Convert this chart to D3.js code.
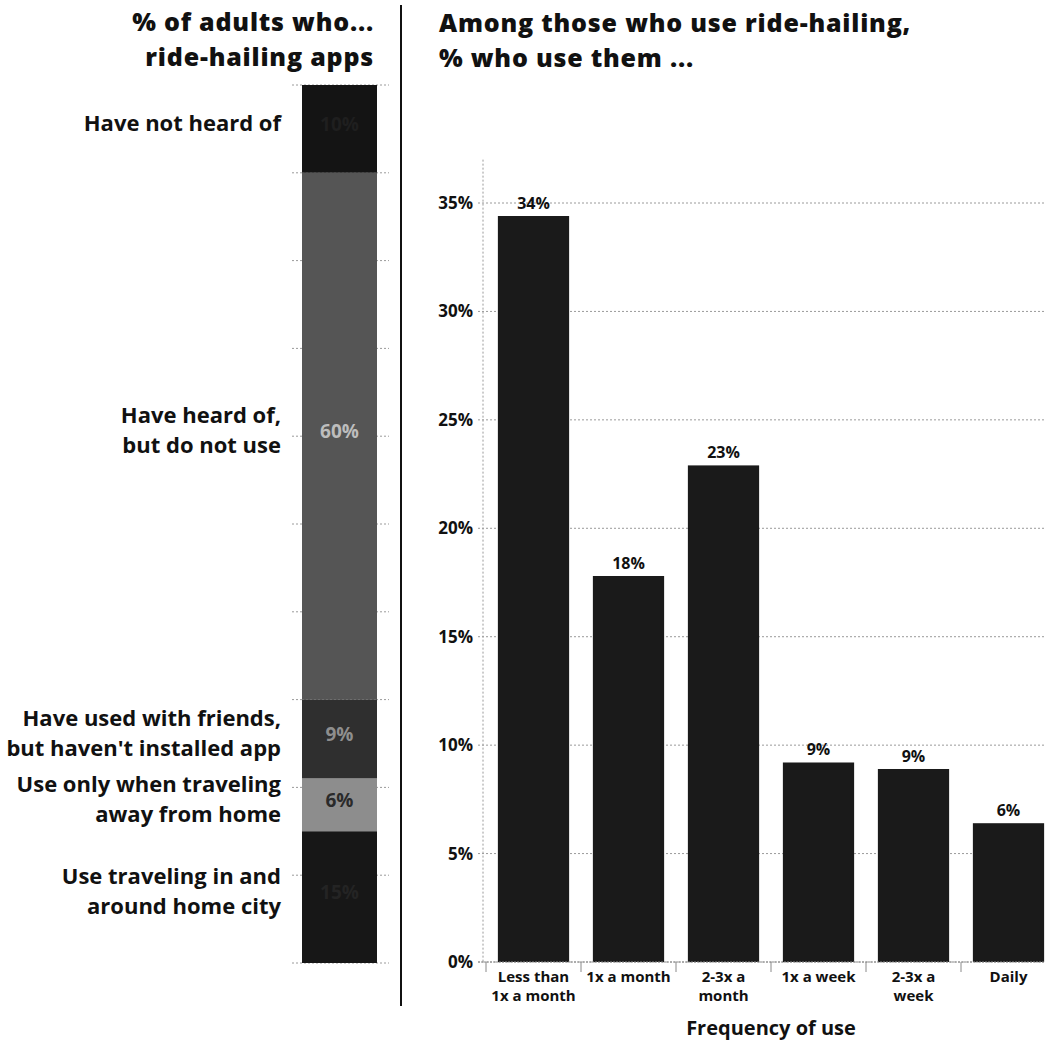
<!DOCTYPE html>
<html>
<head>
<meta charset="utf-8">
<script src="https://cdn.jsdelivr.net/npm/d3@7/dist/d3.min.js"></script>
<style>
  html, body { margin: 0; padding: 0; background: #fff; }
  svg { display: block; }
  text { font-family: "Open Sans", Lato, sans-serif; font-weight: 700; fill: #111; }
  .title { font-size: 25px; font-weight: 800; letter-spacing: 0.8px; }
</style>
</head>
<body>
<svg id="chart" width="1045" height="1043"></svg>
<script>
// ---------- DATA ----------
const awarenessLabels = [
  ["Have not heard of"],
  ["Have heard of,", "but do not use"],
  ["Have used with friends,", "but haven't installed app"],
  ["Use only when traveling", "away from home"],
  ["Use traveling in and", "around home city"]
];
const awarenessValues = [10, 60, 9, 6, 15];
const awarenessFills = ["#141414", "#555555", "#2f2f2f", "#8d8d8d", "#171717"];
const awarenessTextFills = ["#1f1f1f", "#bdbdbd", "#8e8e8e", "#2a2a2a", "#242424"];
const awarenessTicks = [0, 10, 20, 30, 40, 50, 60, 70, 80, 90, 100];

const freqCategories = ["Less than 1x a month", "1x a month", "2-3x a month", "1x a week", "2-3x a week", "Daily"];
const freqLabelLines = [["Less than", "1x a month"], ["1x a month"], ["2-3x a", "month"], ["1x a week"], ["2-3x a", "week"], ["Daily"]];
const freqValues = [34.4, 17.8, 22.9, 9.2, 8.9, 6.4];
const yTicks = [0, 5, 10, 15, 20, 25, 30, 35];

// ---------- SETUP ----------
const svg = d3.select("#chart");

// ---------- LEFT PANEL ----------
const left = svg.append("g");
left.append("text").attr("class", "title").attr("x", 374).attr("y", 31).attr("text-anchor", "end")
  .text("% of adults who...");
left.append("text").attr("class", "title").attr("x", 374).attr("y", 66).attr("text-anchor", "end")
  .text("ride-hailing apps");

const yL = d3.scaleLinear().domain([0, 100]).range([85, 963]);
const barX0 = 302, barX1 = 377;

// tick stubs of the stacked bar
left.selectAll("line.lt").data(awarenessTicks).join("line")
  .attr("x1", 292).attr("x2", 389)
  .attr("y1", d => yL(d)).attr("y2", d => yL(d))
  .attr("stroke", "#9a9a9a").attr("stroke-width", 1).attr("stroke-dasharray", "2,2");

let cum = 0;
const segs = awarenessValues.map((v, i) => {
  const s = { i, start: cum, end: cum + v, v };
  cum += v;
  return s;
});

left.selectAll("rect.seg").data(segs).join("rect")
  .attr("x", barX0).attr("width", barX1 - barX0)
  .attr("y", d => yL(d.start)).attr("height", d => yL(d.end) - yL(d.start))
  .attr("fill", d => awarenessFills[d.i]);

// value labels in the bar
left.selectAll("text.pv").data(segs).join("text")
  .attr("x", (barX0 + barX1) / 2)
  .attr("y", d => yL((d.start + d.end) / 2) - 5)
  .attr("dy", "0.35em").attr("text-anchor", "middle")
  .style("font-size", "19px")
  .style("fill", d => awarenessTextFills[d.i])
  .text(d => d.v + "%");

// category labels
segs.forEach(d => {
  const lines = awarenessLabels[d.i];
  const cy = yL((d.start + d.end) / 2) - 6;
  const lh = 30;
  const t = left.append("text").attr("text-anchor", "end").style("font-size", "22px");
  lines.forEach((ln, k) => {
    t.append("tspan").attr("x", 281)
      .attr("y", cy + (k - (lines.length - 1) / 2) * lh)
      .attr("dy", "0.35em").text(ln);
  });
});

// divider
svg.append("line").attr("x1", 401).attr("x2", 401).attr("y1", 5).attr("y2", 1006)
  .attr("stroke", "#111").attr("stroke-width", 2);

// ---------- RIGHT PANEL ----------
const right = svg.append("g");
right.append("text").attr("class", "title").attr("x", 439).attr("y", 32)
  .text("Among those who use ride-hailing,");
right.append("text").attr("class", "title").attr("x", 439).attr("y", 67)
  .text("% who use them ...");

const y = d3.scaleLinear().domain([0, 35]).range([962, 203]);
const x = d3.scaleBand().domain(freqCategories).range([486, 1056])
  .paddingInner(0.25).paddingOuter(0.125);

// gridlines
right.selectAll("line.grid").data(yTicks).join("line")
  .attr("x1", 478).attr("x2", 1045)
  .attr("y1", d => y(d)).attr("y2", d => y(d))
  .attr("stroke", "#9a9a9a").attr("stroke-width", 1).attr("stroke-dasharray", "2,2");

// y axis line
right.append("line").attr("x1", 483).attr("x2", 483).attr("y1", y(37)).attr("y2", y(0))
  .attr("stroke", "#9a9a9a").attr("stroke-width", 1).attr("stroke-dasharray", "2,2");

// y tick labels
const yAxis = d3.axisLeft(y).tickValues(yTicks).tickFormat(d => d + "%").tickSize(0).tickPadding(0);
const gy = right.append("g").attr("transform", "translate(473,0)").call(yAxis);
gy.select(".domain").remove();
gy.selectAll("text").style("font-size", "17px").style("font-family", "'Open Sans', sans-serif")
  .style("font-weight", 700).attr("fill", "#111");

// bars
right.selectAll("rect.bar").data(freqValues).join("rect")
  .attr("x", (d, i) => x(freqCategories[i]))
  .attr("width", x.bandwidth())
  .attr("y", d => y(d))
  .attr("height", d => y(0) - y(d))
  .attr("fill", "#1a1a1a");

// bar labels
right.selectAll("text.bl").data(freqValues).join("text")
  .attr("x", (d, i) => x(freqCategories[i]) + x.bandwidth() / 2)
  .attr("y", d => y(d) - 7)
  .attr("text-anchor", "middle").style("font-size", "16px")
  .text(d => Math.round(d) + "%");

// x-axis baseline and boundary ticks
const step = x.step();
right.append("line").attr("x1", 478).attr("x2", 1045).attr("y1", y(0)).attr("y2", y(0))
  .attr("stroke", "#8a8a8a").attr("stroke-width", 1).attr("stroke-dasharray", "2,1");
right.selectAll("line.xt").data(freqCategories).join("line")
  .attr("x1", d => x(d) - step * 0.125).attr("x2", d => x(d) - step * 0.125)
  .attr("y1", y(0)).attr("y2", y(0) + 10)
  .attr("stroke", "#8a8a8a").attr("stroke-width", 1);

// x labels
freqCategories.forEach((c, i) => {
  freqLabelLines[i].forEach((ln, k) => {
    right.append("text").attr("text-anchor", "middle").style("font-size", "15px")
      .attr("x", x(c) + x.bandwidth() / 2).attr("y", 982 + k * 19).text(ln);
  });
});

right.append("text").attr("x", 771).attr("y", 1035).attr("text-anchor", "middle")
  .style("font-size", "20px").text("Frequency of use");
</script>
</body>
</html>
